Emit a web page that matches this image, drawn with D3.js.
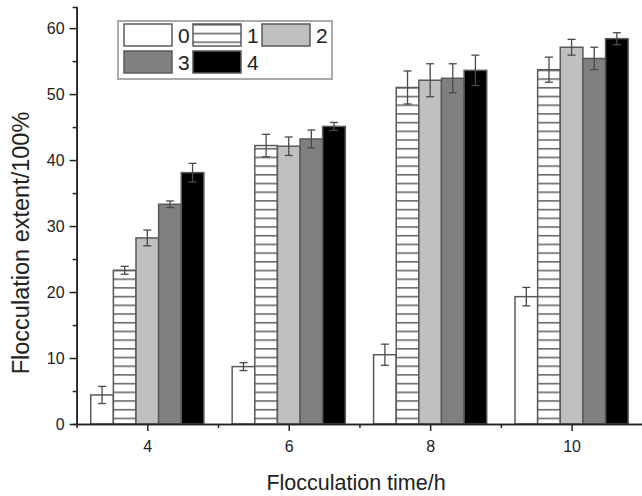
<!DOCTYPE html>
<html>
<head>
<meta charset="utf-8">
<script src="https://cdn.jsdelivr.net/npm/d3@7"></script>
<style>
	body { margin: 0; background: #fff; }
	svg { display: block; font-family: "Liberation Sans", Arial, sans-serif; }
</style>
</head>
<body>
<svg id="chart" width="642" height="496"></svg>
<script>
// flocculation time (h) on the x axis
const times = [4, 6, 8, 10]
const seriesNames = ['0', '1', '2', '3', '4']

// mean flocculation extent per series, one entry per time
const series0 = [4.4, 8.7, 10.5, 19.3]
const series1 = [23.3, 42.2, 51.0, 53.7]
const series2 = [28.2, 42.1, 52.1, 57.1]
const series3 = [33.3, 43.2, 52.4, 55.4]
const series4 = [38.1, 45.1, 53.6, 58.4]

// error bar half heights
const err0 = [1.3, 0.6, 1.6, 1.4]
const err1 = [0.6, 1.7, 2.5, 1.9]
const err2 = [1.2, 1.4, 2.5, 1.2]
const err3 = [0.5, 1.35, 2.2, 1.7]
const err4 = [1.4, 0.6, 2.3, 0.9]

const yTicks = [0, 10, 20, 30, 40, 50, 60]
const yMinor = [5, 15, 25, 35, 45, 55]
const xMinor = [5, 7, 9]

const values = [series0, series1, series2, series3, series4]
const errors = [err0, err1, err2, err3, err4]
const fills = ['#ffffff', 'url(#stripes)', '#c0c0c0', '#808080', '#000000']
const barWidth = 0.32 // in hours

const svg = d3.select('#chart')

svg.append('defs')
	.append('pattern')
		.attr('id', 'stripes')
		.attr('patternUnits', 'userSpaceOnUse')
		.attr('width', 10)
		.attr('height', 8.7)
	.call((p) => p.append('rect').attr('width', 10).attr('height', 8.7).attr('fill', '#fff'))
	.append('rect')
		.attr('y', 0)
		.attr('width', 10)
		.attr('height', 1.6)
		.attr('fill', '#6a6a6a')

const x = d3.scaleLinear().domain([3, 11]).range([76.6, 642.3])
const y = d3.scaleLinear().domain([0, 63.2]).range([424, 7])

// bars
const rows = []
values.forEach((vals, s) => {
	vals.forEach((v, i) => {
		rows.push({ s, t: times[i], v, e: errors[s][i] })
	})
})

const left = (d) => x(d.t + (d.s - 2.5) * barWidth)

svg.append('g')
	.selectAll('rect')
	.data(rows)
	.enter()
		.append('rect')
		.attr('x', left)
		.attr('y', (d) => y(d.v))
		.attr('width', x(barWidth) - x(0))
		.attr('height', (d) => y(0) - y(d.v))
		.attr('fill', (d) => fills[d.s])
		.attr('stroke', '#5a5a5a')
		.attr('stroke-width', 1.5)

// error bars
const eb = svg.append('g')
	.attr('stroke', '#4a4a4a')
	.attr('stroke-width', 1.3)
	.selectAll('g')
	.data(rows)
	.enter()
		.append('g')
		.attr('transform', (d) => 'translate(' + x(d.t + (d.s - 2) * barWidth) + ',0)')

eb.append('line')
	.attr('y1', (d) => y(d.v - d.e))
	.attr('y2', (d) => y(d.v + d.e))
eb.append('line')
	.attr('x1', -4).attr('x2', 4)
	.attr('y1', (d) => y(d.v + d.e))
	.attr('y2', (d) => y(d.v + d.e))
eb.append('line')
	.attr('x1', -4).attr('x2', 4)
	.attr('y1', (d) => y(d.v - d.e))
	.attr('y2', (d) => y(d.v - d.e))

// axes
const axisStyle = (g) => {
	g.select('.domain').attr('stroke', '#222').attr('stroke-width', 1.5)
	g.selectAll('.tick line').attr('stroke', '#222').attr('stroke-width', 1.5)
	g.selectAll('text').attr('fill', '#222').style('font-size', '16px').style('font-family', null)
}

svg.append('g')
	.attr('transform', 'translate(0,' + y(0) + ')')
	.call(d3.axisBottom(x).tickValues(xMinor).tickSize(4).tickFormat(''))
	.call(axisStyle)

svg.append('g')
	.attr('transform', 'translate(0,' + y(0) + ')')
	.call(d3.axisBottom(x).tickValues(times).tickSize(7).tickSizeOuter(0).tickPadding(10))
	.call(axisStyle)

svg.append('g')
	.attr('transform', 'translate(' + x(3) + ',0)')
	.call(d3.axisLeft(y).tickValues(yMinor).tickSize(4).tickFormat(''))
	.call(axisStyle)

svg.append('g')
	.attr('transform', 'translate(' + x(3) + ',0)')
	.call(d3.axisLeft(y).tickValues(yTicks).tickSize(7).tickSizeOuter(0).tickPadding(5))
	.call(axisStyle)

// axis titles
svg.append('text')
	.attr('x', 356)
	.attr('y', 490)
	.attr('text-anchor', 'middle')
	.attr('fill', '#222')
	.style('font-size', '21.5px')
	.text('Flocculation time/h')

svg.append('text')
	.attr('transform', 'translate(29,243) rotate(-90)')
	.attr('text-anchor', 'middle')
	.attr('fill', '#222')
	.style('font-size', '23.5px')
	.text('Flocculation extent/100%')

// legend
const legend = svg.append('g').attr('transform', 'translate(118,21)')

legend.append('rect')
	.attr('width', 214)
	.attr('height', 58)
	.attr('fill', '#fff')
	.attr('stroke', '#aaa')
	.attr('stroke-width', 2)

const items = legend.selectAll('g.item')
	.data(seriesNames)
	.enter()
		.append('g')
		.attr('class', 'item')
		.attr('transform', (d, i) => 'translate(' + (6 + (i % 3) * 69) + ',' + (3 + Math.floor(i / 3) * 27) + ')')

items.append('rect')
	.attr('width', 48)
	.attr('height', 22)
	.attr('fill', (d, i) => fills[i])
	.attr('stroke', '#5a5a5a')
	.attr('stroke-width', 1.5)

items.append('text')
	.attr('x', 54)
	.attr('y', 19)
	.attr('fill', '#222')
	.style('font-size', '21px')
	.text((d) => d)
</script>
</body>
</html>
